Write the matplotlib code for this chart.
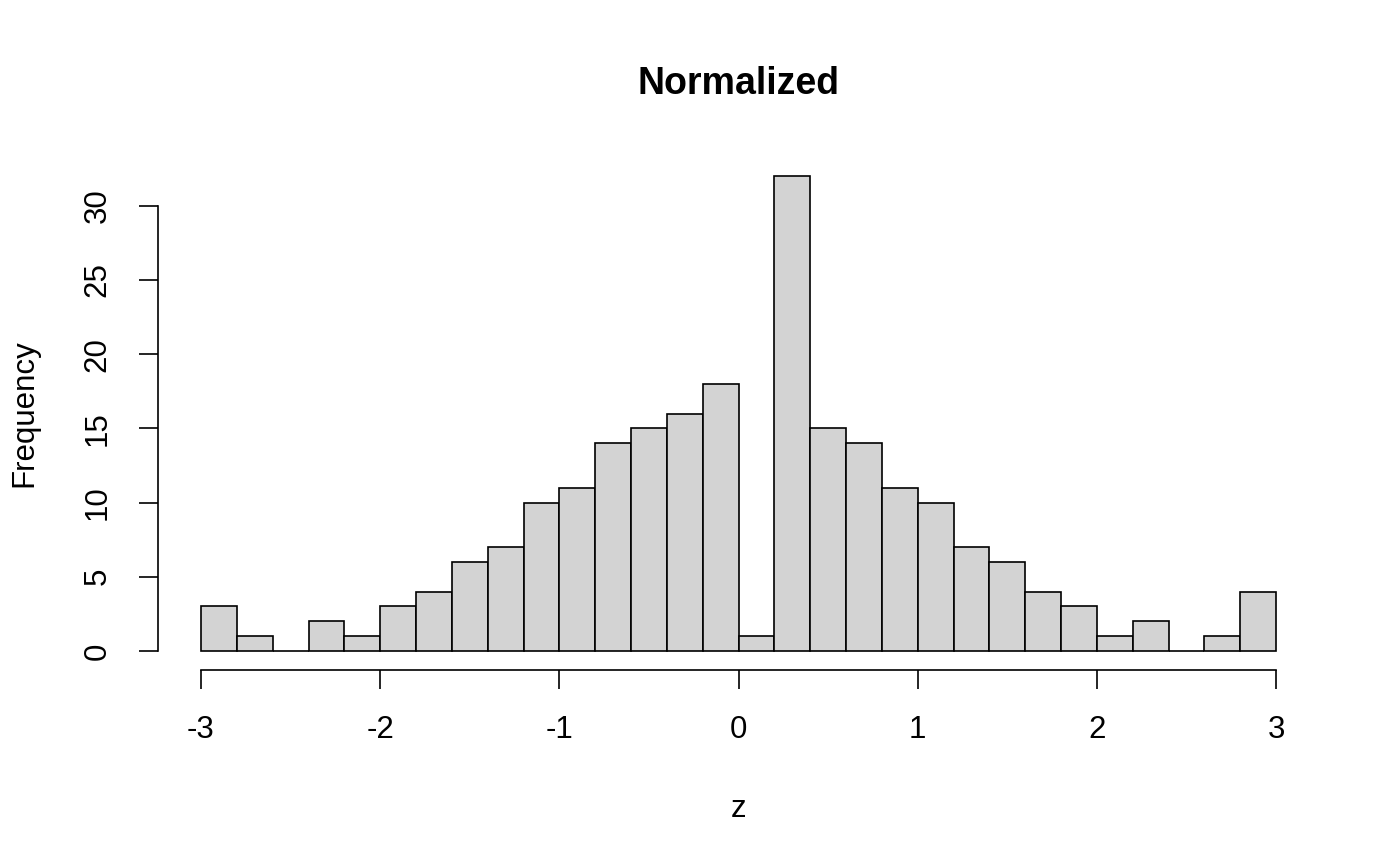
import numpy as np
import matplotlib.pyplot as plt

plt.rcParams['font.family'] = ['Liberation Sans', 'DejaVu Sans']

# histogram of z, bins of width 0.2 from -3 to 3
bin_edges = np.round(np.arange(-3.0, 3.0001, 0.2), 1)
counts = [3, 1, 0, 2, 1, 3, 4, 6, 7, 10, 11, 14, 15, 16, 18,
          1, 32, 15, 14, 11, 10, 7, 6, 4, 3, 1, 2, 0, 1, 4]
x_ticks = [-3, -2, -1, 0, 1, 2, 3]
y_ticks = [0, 5, 10, 15, 20, 25, 30]

fig = plt.figure(figsize=(14, 8.66), dpi=100)
ax = fig.add_axes([158 / 1400, 196 / 866, 1161 / 1400, 513 / 866])

ax.bar(bin_edges[:-1], counts, width=np.diff(bin_edges), align='edge',
       color='#D3D3D3', edgecolor='black', linewidth=1.2)

# R style axis ranges (4% padding)
ax.set_xlim(-3.24, 3.24)
ax.set_ylim(-1.28, 33.28)

for s in ['top', 'right']:
    ax.spines[s].set_visible(False)
ax.spines['left'].set_bounds(0, 30)
ax.spines['bottom'].set_bounds(-3, 3)
for s in ['left', 'bottom']:
    ax.spines[s].set_linewidth(1.2)

ax.set_xticks(x_ticks)
ax.set_xticklabels([str(v) for v in x_ticks])
ax.set_yticks(y_ticks)
ax.set_yticklabels([str(v) for v in y_ticks], rotation=90, va='center')
ax.tick_params(axis='both', length=13.5, width=1.2, labelsize=22.5, pad=19)

ax.set_xlabel('z', fontsize=22.5, labelpad=35)
ax.set_ylabel('Frequency', fontsize=22.5, labelpad=31)
ax.set_title('Normalized', fontsize=27, fontweight='bold', pad=45)

fig.savefig('out.png', dpi=100)
